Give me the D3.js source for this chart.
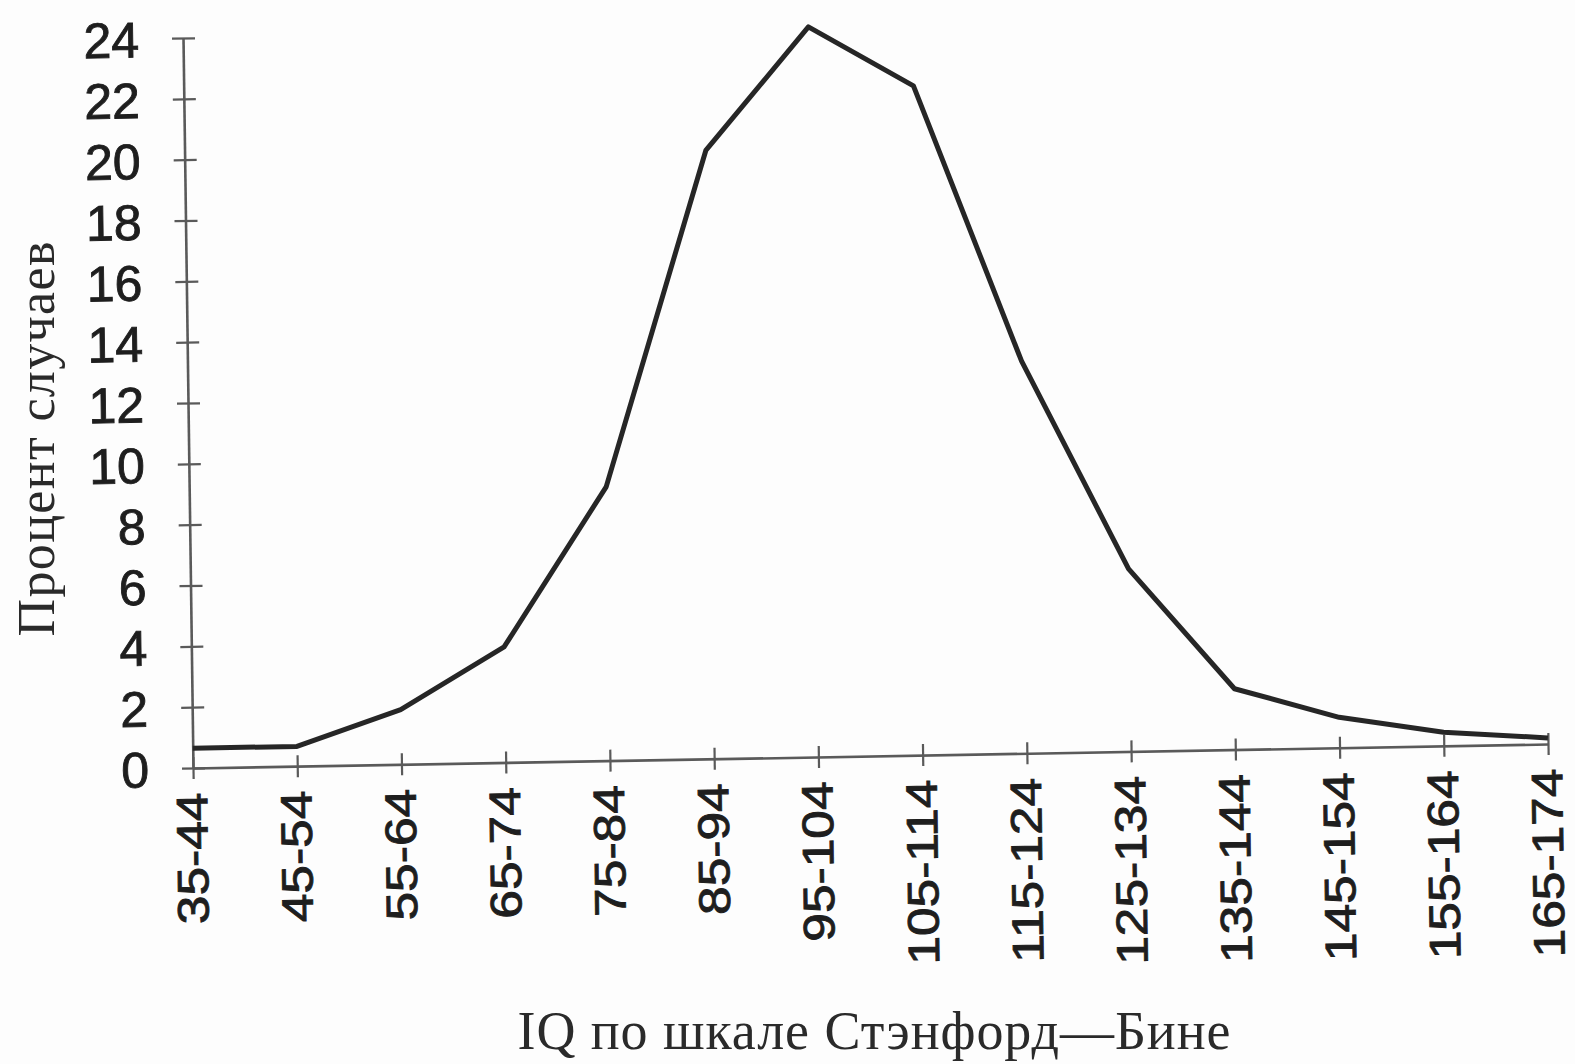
<!DOCTYPE html>
<html>
<head>
<meta charset="utf-8">
<script src="https://cdn.jsdelivr.net/npm/d3@7"></script>
<style>
  body { margin: 0; background: #fdfdfd; }
  svg { display: block; }
</style>
</head>
<body>
<svg id="iqChart"></svg>
<script>
// IQ ranges (Stanford-Binet) and percent of cases
let categories = ['35-44', '45-54', '55-64', '65-74', '75-84', '85-94', '95-104',
    '105-114', '115-124', '125-134', '135-144', '145-154', '155-164', '165-174'];
let percents = [0.65, 0.65, 1.8, 3.8, 9.0, 20.0, 24.0, 22.0, 12.9, 6.0, 2.0, 1.0, 0.45, 0.2];
let yTicks = [0, 2, 4, 6, 8, 10, 12, 14, 16, 18, 20, 22, 24];
let xTitle = 'IQ по шкале Стэнфорд—Бине';
let yTitle = 'Процент случаев';

//chart: config
function getChartConfig(){
    let width = 1575;
    let height = 1064;
    let origin = {x: 193, y: 768};   // where the two axes meet
    let bodyWidth = 1355;
    let bodyHeight = 730;

    let container = d3.select('#iqChart')
        .attr('width', width)
        .attr('height', height)

    // the scanned page is a little skewed, the whole plot follows it
    let body = container.append('g')
        .attr('transform', `matrix(1,-0.0177,0.0137,1,${origin.x},${origin.y})`)

    return { width, height, origin, bodyWidth, bodyHeight, container, body }
}

//chart: scales
function getChartScales(config){
    let xScale = d3.scalePoint()
        .domain(categories)
        .range([0, config.bodyWidth])

    let yScale = d3.scaleLinear()
        .domain([0, 24])
        .range([0, -config.bodyHeight])

    return {xScale, yScale};
}

//chart: axes
function drawAxes(scales, config){
    let {xScale, yScale} = scales;
    let {body} = config;

    let axisX = d3.axisBottom(xScale).tickSizeOuter(0)
    let gx = body.append('g').call(axisX)
    gx.select('.domain').attr('stroke', '#5a5a5a').attr('stroke-width', 2.6)
    gx.selectAll('.tick line')
        .attr('y1', -11).attr('y2', 11)
        .attr('stroke', '#5a5a5a').attr('stroke-width', 2.2)
    // labels in the scan are a bit stretched along the text
    gx.selectAll('.tick text')
        .attr('transform', 'rotate(-90) scale(1.17,1)')
        .attr('x', -21).attr('y', 0).attr('dy', '0.3em')
        .style('text-anchor', 'end')
        .style('font-size', '44px')

    let axisY = d3.axisLeft(yScale).tickValues(yTicks).tickSizeOuter(0)
    let gy = body.append('g').call(axisY)
    gy.select('.domain').attr('stroke', '#5a5a5a').attr('stroke-width', 2.6)
    gy.selectAll('.tick line')
        .attr('x1', -11).attr('x2', 12)
        .attr('stroke', '#5a5a5a').attr('stroke-width', 2.2)
    gy.selectAll('.tick text')
        .attr('x', -44).attr('dy', '0.36em')
        .style('font-size', '50px')

    body.selectAll('.tick text')
        .attr('fill', '#1e1e1e')
        .attr('stroke', '#1e1e1e')
        .attr('stroke-width', 0.9)
        .style('font-family', '"Liberation Sans", Arial, sans-serif')
}

//chart: the line
function drawLine(scales, config){
    let {xScale, yScale} = scales;
    let line = d3.line()
        .x((d, i) => xScale(categories[i]))
        .y(d => yScale(d))

    config.body.append('path')
        .datum(percents)
        .attr('d', line)
        .attr('fill', 'none')
        .attr('stroke', '#262626')
        .attr('stroke-width', 5)
        .attr('stroke-linejoin', 'round')
}

//chart: titles
function drawTitles(config){
    let {container} = config;
    container.append('text')
        .attr('x', 874).attr('y', 1049)
        .attr('text-anchor', 'middle')
        .attr('textLength', 713)
        .attr('fill', '#2a2a2a')
        .style('font-family', '"Liberation Serif", "Times New Roman", serif')
        .style('font-size', '54px')
        .text(xTitle)

    container.append('text')
        .attr('transform', 'translate(54,439) rotate(-90)')
        .attr('text-anchor', 'middle')
        .attr('textLength', 395)
        .attr('fill', '#2a2a2a')
        .style('font-family', '"Liberation Serif", "Times New Roman", serif')
        .style('font-size', '52px')
        .text(yTitle)
}

function drawChart(){
    let config = getChartConfig();
    let scales = getChartScales(config);
    drawAxes(scales, config);
    drawLine(scales, config);
    drawTitles(config);
}

drawChart();
</script>
</body>
</html>
